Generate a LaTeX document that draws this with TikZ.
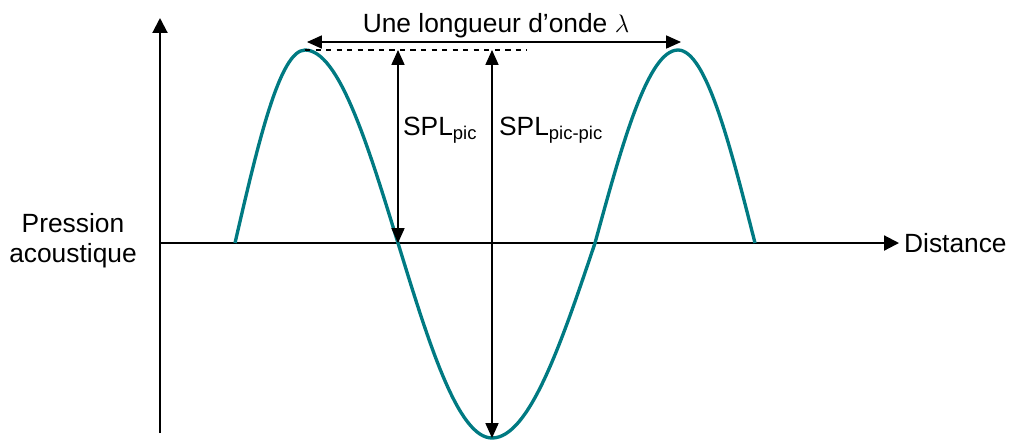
\documentclass[tikz,border=0pt]{standalone}
\usepackage{fontspec}
\setmainfont{Liberation Sans}
\usetikzlibrary{arrows.meta}
\definecolor{bleuonde}{RGB}{0,122,130}

\begin{document}
\begin{tikzpicture}[x=0.02cm, y=-0.02cm,
    axe/.style={line width=1.2pt, -{Triangle[length=8.5pt,width=8.5pt]}},
    cote/.style={line width=0.6pt, {Triangle[length=8.5pt,width=7.5pt]}-{Triangle[length=8.5pt,width=7.5pt]}},
    onde/.style={line width=1.9pt, bleuonde},
    texte/.style={font=\fontsize{15}{17}\selectfont, inner sep=1pt}]
    \useasboundingbox (0,0) rectangle (1013,441);

    % 1. AXES
    \coordinate (O) at (160,243);
    \coordinate (ybas) at (160,433);
    \coordinate (yhaut) at (160,18);
    \coordinate (xfin) at (899,243);
    \draw[axe] (ybas) -- (yhaut);
    \draw[axe] (O) -- (xfin);
    \node[texte, anchor=west] (dist) at (902,243) {Distance};
    \node[texte, align=center] (pression) at (73,241) {Pression\\acoustique};

    % 2. ONDE (quarts de sinus)
    \coordinate (w0) at (235,243);
    \coordinate (p1) at (305,50);
    \coordinate (z1) at (398,243);
    \coordinate (t1) at (492,438);
    \coordinate (z2) at (595,243);
    \coordinate (p2) at (678,50);
    \coordinate (w1) at (755,243);
    \draw[onde] (w0) sin (p1) cos (z1) sin (t1) cos (z2) sin (p2) cos (w1);

    % 3. LONGUEUR D'ONDE
    \coordinate (lamg) at (307,42);
    \coordinate (lamd) at (681,42);
    \draw[cote] (lamg) -- (lamd);
    \node[texte, anchor=base] (lambda) at (496,32) {Une longueur d'onde $\lambda$};
    \coordinate (pointfin) at (527,50);
    \draw[dashed, line width=0.6pt] (p1) -- (pointfin);

    % 4. SPL
    \coordinate (splhaut) at (398,50);
    \coordinate (ppHaut) at (492,50);
    \draw[cote] (splhaut) -- (z1);
    \draw[cote] (ppHaut) -- (t1);
    \node[texte, anchor=base west] (splpic) at (401,135) {SPL\textsubscript{pic}};
    \node[texte, anchor=base west] (splpp) at (497,135) {SPL\textsubscript{pic-pic}};

\end{tikzpicture}
\end{document}
